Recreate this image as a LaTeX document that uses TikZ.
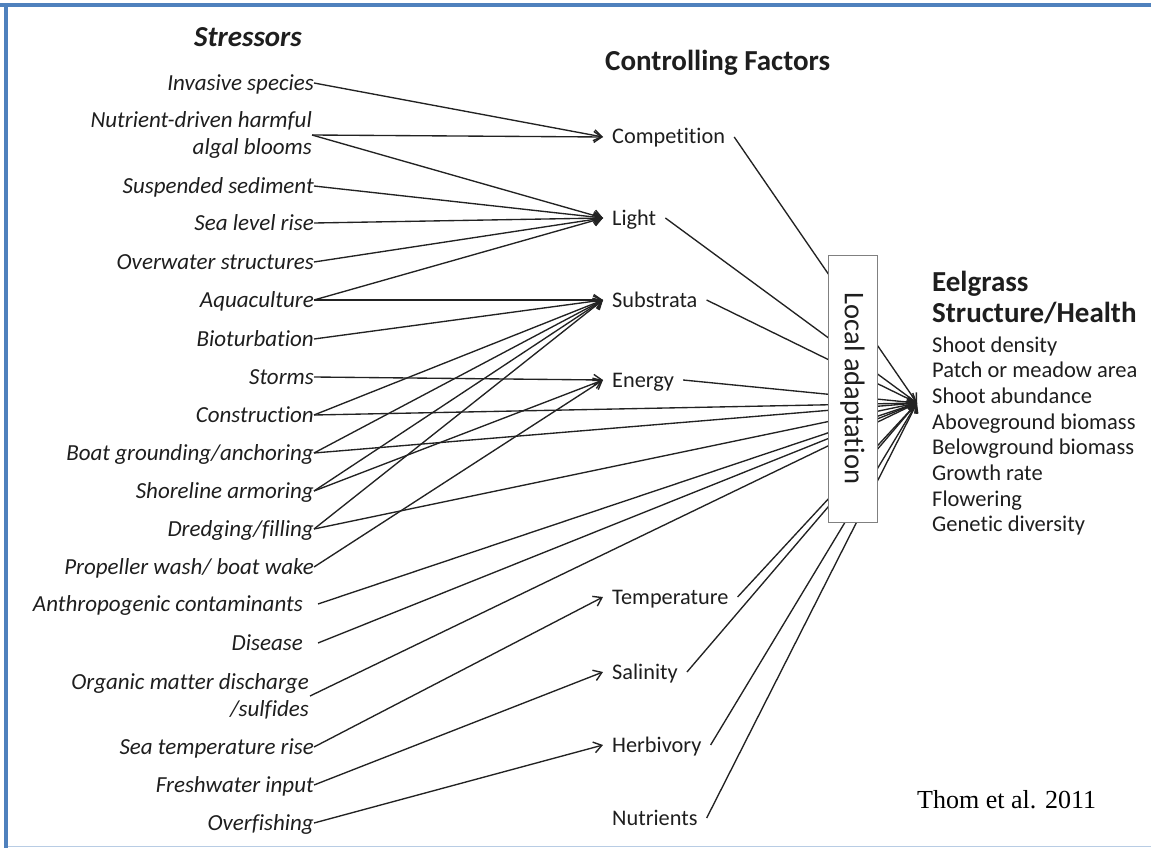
\documentclass[tikz,border=0pt]{standalone}
\usepackage{fontspec}
\setmainfont[Ligatures={NoCommon}]{Carlito}
\newfontfamily\timesf{Liberation Serif}
\usetikzlibrary{arrows.meta}
\definecolor{txt}{HTML}{1E1E1E}
\definecolor{ln}{HTML}{222222}
\definecolor{frameblue}{HTML}{4F81BD}
\definecolor{framelight}{HTML}{B8CCE4}
\tikzset{
  lab/.style={anchor=east, inner sep=0pt, text height=14.5pt, text depth=0pt, font=\fontsize{23}{27}\selectfont\itshape, text=txt},
  labtwo/.style={anchor=east, inner sep=0pt, align=right, font=\fontsize{23}{27}\selectfont\itshape, text=txt},
  fac/.style={anchor=west, inner xsep=9pt, inner ysep=0pt, text height=14pt, text depth=0pt, font=\fontsize{22.3}{27}\selectfont, text=txt},
  head/.style={inner sep=0pt, text=txt, font=\fontsize{29}{31}\selectfont\bfseries},
  item/.style={anchor=base west, inner sep=0pt, text=txt, font=\fontsize{22.5}{26}\selectfont},
  conn/.style={draw=ln, line width=1.35pt, -{Straight Barb[length=8pt,width=11pt,line width=1.4pt]}},
}
\begin{document}
\begin{tikzpicture}[x=1pt,y=-1pt]
\useasboundingbox (0,0) rectangle (1151,848);
% frame
\fill[frameblue] (0,3) rectangle (1151,7);
\fill[frameblue] (4,3) rectangle (8,848);
\draw[framelight, line width=1.5pt] (8,846.5) -- (1151,846.5);

% headings
\node[head, anchor=base] (hstress) at (248,47) {\itshape Stressors};
\node[head, anchor=base west] (hcontrol) at (605,71) {Controlling Factors};

% stressors
\node[lab] (st1) at (314,83) {Invasive species};
\node[labtwo] (st2) at (312,135) {Nutrient-driven harmful\\algal blooms};
\node[lab] (st3) at (314,186) {Suspended sediment};
\node[lab] (st4) at (314,223) {Sea level rise};
\node[lab] (st5) at (314,262) {Overwater structures};
\node[lab] (st6) at (314,300) {Aquaculture};
\node[lab] (st7) at (314,339) {Bioturbation};
\node[lab] (st8) at (314,377) {Storms};
\node[lab] (st9) at (314,415) {Construction};
\node[lab] (st10) at (314,453) {Boat grounding/anchoring};
\node[lab] (st11) at (314,491) {Shoreline armoring};
\node[lab] (st12) at (314,529) {Dredging/filling};
\node[lab] (st13) at (314,567) {Propeller wash/ boat wake};
\node[lab] (st14) at (303,604) {Anthropogenic contaminants};
\node[lab] (st15) at (303,643) {Disease};
\node[labtwo] (st16) at (309,696) {Organic matter discharge\\/sulfides};
\node[lab] (st17) at (314,747) {Sea temperature rise};
\node[lab] (st18) at (314,785) {Freshwater input};
\node[lab] (st19) at (314,823) {Overfishing};

% controlling factors
\node[fac] (f1) at (603,137) {Competition};
\node[fac] (f2) at (603,218) {Light};
\node[fac] (f3) at (603,300) {Substrata};
\node[fac] (f4) at (603,380) {Energy};
\node[fac] (f5) at (603,597) {Temperature};
\node[fac] (f6) at (603,672) {Salinity};
\node[fac] (f7) at (603,745) {Herbivory};
\node[fac] (f8) at (603,818) {Nutrients};

% eelgrass
\coordinate (conv) at (917,403);
\node[head, anchor=base west] (eg1) at (932,291) {Eelgrass};
\node[head, anchor=base west] (eg2) at (932,322) {Structure/Health};
\foreach \t [count=\i from 0] in {Shoot density,Patch or meadow area,Shoot abundance,Aboveground biomass,Belowground biomass,Growth rate,Flowering,Genetic diversity}
  \node[item] (it\i) at (932,352+\i*25.7) {\t};

\node[anchor=base west, inner sep=0pt, text=black, font=\timesf\fontsize{26}{30}\selectfont] (cite) at (917,808) {Thom et al. 2011};

% stressor -> factor
\draw[conn] (st1.east) -- (f1.west);
\draw[conn] (st2.east) -- (f1.west);
\draw[conn] (st2.east) -- (f2.west);
\draw[conn] (st3.east) -- (f2.west);
\draw[conn] (st4.east) -- (f2.west);
\draw[conn] (st5.east) -- (f2.west);
\draw[conn] (st6.east) -- (f2.west);
\draw[conn] (st6.east) -- (f3.west);
\draw[conn] (st7.east) -- (f3.west);
\draw[conn] (st8.east) -- (f4.west);
\draw[conn] (st9.east) -- (f3.west);
\draw[conn] (st10.east) -- (f3.west);
\draw[conn] (st11.east) -- (f3.west);
\draw[conn] (st11.east) -- (f4.west);
\draw[conn] (st12.east) -- (f3.west);
\draw[conn] (st13.east) -- (f4.west);
\draw[conn] (st17.east) -- (f5.west);
\draw[conn] (st18.east) -- (f6.west);
\draw[conn] (st19.east) -- (f7.west);
% stressor -> eelgrass
\draw[conn] (st9.east) -- (conv);
\draw[conn] (st10.east) -- (conv);
\draw[conn] (st12.east) -- (conv);
\draw[conn] ([xshift=15pt]st14.east) -- (conv);
\draw[conn] ([xshift=15pt]st15.east) -- (conv);
\draw[conn] ([xshift=1pt]st16.east) -- (conv);
% factor -> eelgrass
\foreach \f in {f1,f2,f3,f4,f5,f6,f7,f8}
  \draw[conn] (\f.east) -- (conv);

% local adaptation box (drawn over the lines)
\node[draw=gray, line width=0.9pt, fill=white, rotate=-90, minimum width=267pt, minimum height=49pt, inner sep=0pt, text=txt, font=\fontsize{28.5}{30}\selectfont] (local) at (852.5,388.5) {Local adaptation};
\end{tikzpicture}
\end{document}
